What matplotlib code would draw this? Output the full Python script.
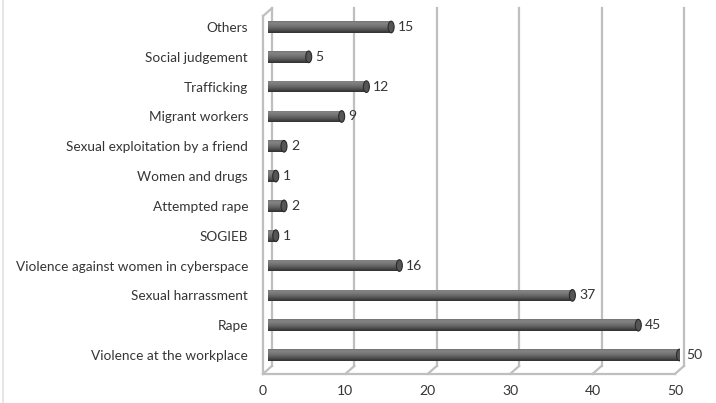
import matplotlib
matplotlib.use("Agg")
import matplotlib.pyplot as plt
import numpy as np
from matplotlib.patches import Ellipse
from matplotlib.transforms import offset_copy, ScaledTranslation, IdentityTransform
from matplotlib.lines import Line2D

categories = ["Violence at the workplace", "Rape", "Sexual harrassment",
              "Violence against women in cyberspace", "SOGIEB", "Attempted rape",
              "Women and drugs", "Sexual exploitation by a friend", "Migrant workers",
              "Trafficking", "Social judgement", "Others"]
values = [50, 45, 37, 16, 1, 2, 1, 2, 9, 12, 5, 15]
xticks = [0, 10, 20, 30, 40, 50]
xticklabels = ["0", "10", "20", "30", "40", "50"]

plt.rcParams['font.family'] = ['Lato', 'DejaVu Sans']
TXT = "#353535"
GRID = "#bfbfbf"
FS = 9.8

W, H = 716, 403
fig = plt.figure(figsize=(W / 100, H / 100), dpi=100)
ax = fig.add_axes([267.5 / W, (H - 369.9) / H, 412 / W, (369.9 - 12.1) / H])
ax.set_xlim(0, 50)
ax.set_ylim(-0.5, len(categories) - 0.5)
for s in ax.spines.values():
    s.set_visible(False)

DX, DY = 4.5, 4.0  # half depth offset in pixels
back = offset_copy(ax.transData, fig, x=DX, y=DY, units='dots')
front = offset_copy(ax.transData, fig, x=-DX, y=-DY, units='dots')
y0, y1 = -0.5, len(categories) - 0.5

# back wall gridlines
for t in xticks[1:]:
    ax.plot([t, t], [y0, y1], color=GRID, lw=1.6, transform=back, clip_on=False, zorder=1)
# floor connectors
for t in xticks:
    p_back = back.transform((t, y0))
    p_front = front.transform((t, y0))
    fig.add_artist(Line2D([p_back[0], p_front[0]], [p_back[1], p_front[1]], color=GRID,
                          lw=1.6, transform=IdentityTransform()))
# front floor edge
ax.plot([0, 50], [y0, y0], color=GRID, lw=1.6, transform=front, clip_on=False, zorder=1)
# left wall
ax.plot([0, 0], [y0, y1], color=GRID, lw=1.6, transform=back, clip_on=False, zorder=1)
ax.plot([0, 0], [y0, y1], color=GRID, lw=1.6, transform=front, clip_on=False, zorder=1)
pb = back.transform((0, y1)); pf = front.transform((0, y1))
fig.add_artist(Line2D([pb[0], pf[0]], [pb[1], pf[1]], color=GRID, lw=1.6,
                      transform=IdentityTransform()))

# bars (cylinders)
ypos = np.arange(len(categories))
bh = 0.39
bars = ax.barh(ypos, values, height=bh, color="#5f5f5f", edgecolor="none", zorder=3)
grad = np.linspace(0, 1, 256).reshape(-1, 1)
cmap = matplotlib.colors.LinearSegmentedColormap.from_list(
    "cyl", ["#303030", "#444444", "#5a5a5a", "#6c6c6c", "#7a7a7a", "#848484", "#747474"])
for b in bars:
    x, y, w, h = b.get_x(), b.get_y(), b.get_width(), b.get_height()
    im = ax.imshow(grad, extent=[x, x + w, y, y + h], aspect='auto', cmap=cmap,
                   origin='lower', zorder=3.1, interpolation='bilinear')
    im.set_clip_path(b)
px_per_unit = 412 / 50
cap_w = 6 / px_per_unit
for yv, v in zip(ypos, values):
    ax.add_patch(Ellipse((v, yv), cap_w, bh, facecolor="#555555", edgecolor="#2a2a2a",
                         lw=0.8, zorder=4))
    ax.add_patch(Ellipse((0, yv), cap_w, bh, facecolor="#555555", edgecolor="none",
                         zorder=2.9))
    ax.annotate(str(v), (v, yv), xytext=(5, 0), textcoords='offset points',
                va='center', ha='left', fontsize=FS + 0.3, color=TXT, zorder=5)

ax.set_yticks(ypos, categories)
ax.set_xticks(xticks, xticklabels)
ax.tick_params(axis='both', length=0, labelsize=FS, labelcolor=TXT)
ax.tick_params(axis='y', pad=14)
ax.tick_params(axis='x', pad=8, labelsize=FS + 0.3)
for lab in ax.get_xticklabels():
    lab.set_transform(lab.get_transform() + ScaledTranslation(-DX / 100, -DY / 100, fig.dpi_scale_trans))
ax.grid(False)

fig.add_artist(Line2D([2.5, 2.5], [0, H], color="#e2e2e2", lw=1.2,
                      transform=IdentityTransform()))

fig.savefig("out.png", dpi=100)
